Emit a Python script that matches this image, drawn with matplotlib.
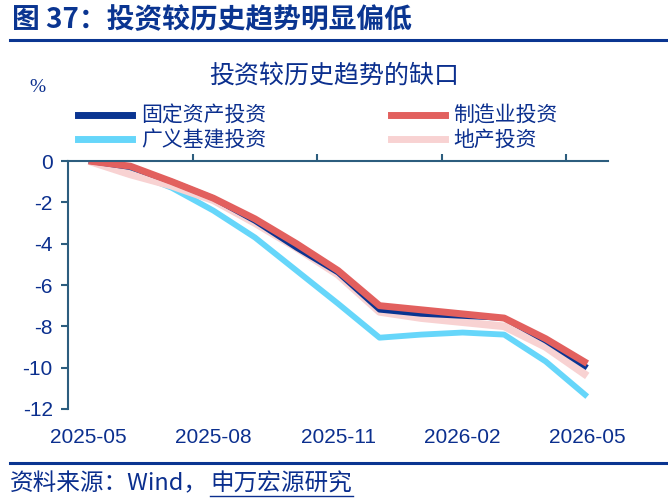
import numpy as np
import matplotlib
matplotlib.use('Agg')
import matplotlib.pyplot as plt
from matplotlib.lines import Line2D

plt.rcParams['font.family'] = ['Liberation Sans', 'Noto Sans CJK SC', 'DejaVu Sans']

# data: gap vs historical trend, %
months = ['2025-05', '2025-06', '2025-07', '2025-08', '2025-09', '2025-10', '2025-11',
          '2025-12', '2026-01', '2026-02', '2026-03', '2026-04', '2026-05']
fixed_asset = [0, -0.3, -1.0, -1.8, -2.9, -4.2, -5.4, -7.2, -7.4, -7.5, -7.6, -8.7, -10.0]
manufacturing = [0, -0.25, -1.0, -1.8, -2.8, -4.0, -5.3, -7.0, -7.2, -7.4, -7.6, -8.6, -9.8]
infrastructure = [0, -0.5, -1.3, -2.4, -3.7, -5.3, -6.9, -8.55, -8.4, -8.3, -8.4, -9.7, -11.4]
property_inv = [0, -0.65, -1.2, -1.9, -3.0, -4.2, -5.5, -7.3, -7.6, -7.8, -8.0, -9.0, -10.4]

series_names = ['固定资产投资', '制造业投资', '广义基建投资', '地产投资']
xlabels = ['2025-05', '2025-08', '2025-11', '2026-02', '2026-05']

NAVY = '#0A3591'
TXT = '#0B2F8E'
SPINE = '#2C5D7E'
colors = {'固定资产投资': '#0A3591', '制造业投资': '#E2605E',
          '广义基建投资': '#66D6FA', '地产投资': '#F8D2D2'}
widths = {'固定资产投资': 4.0, '制造业投资': 5.0, '广义基建投资': 4.2, '地产投资': 5.5}

fig = plt.figure(figsize=(6.68, 4.98), dpi=100)
ax = fig.add_axes([68 / 668, 1 - 409 / 498, 540 / 668, 248 / 498])

x = np.arange(len(months))
data = {'固定资产投资': fixed_asset, '制造业投资': manufacturing,
        '广义基建投资': infrastructure, '地产投资': property_inv}
# draw order: pink and light blue below, then dark blue, red on top
for name in ['广义基建投资', '地产投资', '固定资产投资', '制造业投资']:
    ax.plot(x, data[name], color=colors[name], lw=widths[name],
            solid_capstyle='butt', solid_joinstyle='round')

ax.set_xlim(-0.5, len(months) - 0.5)
ax.set_ylim(-12, 0)
ax.set_yticks(np.arange(-12, 1, 2))
ax.set_yticklabels([str(v) for v in range(-12, 1, 2)])

ax.set_xticks([months.index(m) for m in xlabels])
ax.set_xticklabels(xlabels)
ax.set_xticks([2.5, 5.5, 8.5, 11.5], minor=True)
ax.tick_params(axis='x', which='major', bottom=False, top=False, length=0,
               pad=14, labelsize=15, labelcolor=TXT)
ax.tick_params(axis='x', which='minor', bottom=False, top=True, direction='out',
               length=5, width=1.5, color=SPINE)
ax.tick_params(axis='y', which='major', left=True, direction='out', length=5,
               width=1.5, color=SPINE, pad=6, labelsize=15, labelcolor=TXT)

for s in ['right', 'bottom']:
    ax.spines[s].set_visible(False)
for s in ['left', 'top']:
    ax.spines[s].set_color(SPINE)
    ax.spines[s].set_linewidth(1.5)

# legend (matplotlib fills by column, so reorder for row-wise layout)
leg_order = ['固定资产投资', '广义基建投资', '制造业投资', '地产投资']
handles = [Line2D([], [], color=colors[n], lw=5) for n in leg_order]
leg = fig.legend(handles, leg_order, loc='center', ncol=2,
                 bbox_to_anchor=(318 / 668, 1 - 128 / 498), frameon=False,
                 prop={'family': ['Noto Sans CJK SC'], 'size': 15},
                 handlelength=2.6, handletextpad=0.4, columnspacing=6.0,
                 labelspacing=0.1)
for t in leg.get_texts():
    t.set_color(TXT)

# titles and decorations
fig.text(12 / 668, 1 - 20 / 498, '图 37：投资较历史趋势明显偏低', fontsize=20,
         fontweight='bold', color=NAVY, va='center', ha='left',
         family=['Noto Sans CJK SC'])
fig.add_artist(Line2D([10 / 668, 1], [1 - 40 / 498] * 2, color=NAVY, lw=2.2))
fig.text(334 / 668, 1 - 76 / 498, '投资较历史趋势的缺口', fontsize=18, color=TXT,
         va='center', ha='center', family=['Noto Sans CJK SC'])
fig.text(37 / 668, 1 - 88 / 498, '%', fontsize=14, color=TXT, va='center',
         ha='center', family=['Liberation Serif'])

fig.add_artist(Line2D([10 / 668, 1], [1 - 463 / 498] * 2, color=NAVY, lw=2.2))
fig.text(10 / 668, 1 - 484 / 498, '资料来源：Wind，', fontsize=17,
         color=TXT, va='center', ha='left',
         family=['Noto Sans CJK SC', 'Liberation Sans'])
fig.text(210 / 668, 1 - 484 / 498, '申万宏源研究', fontsize=17,
         color=TXT, va='center', ha='left', family=['Noto Sans CJK SC'])
fig.add_artist(Line2D([210 / 668, 353 / 668], [1 - 496 / 498] * 2,
                      color=TXT, lw=1))

fig.savefig('out.png', dpi=100)
